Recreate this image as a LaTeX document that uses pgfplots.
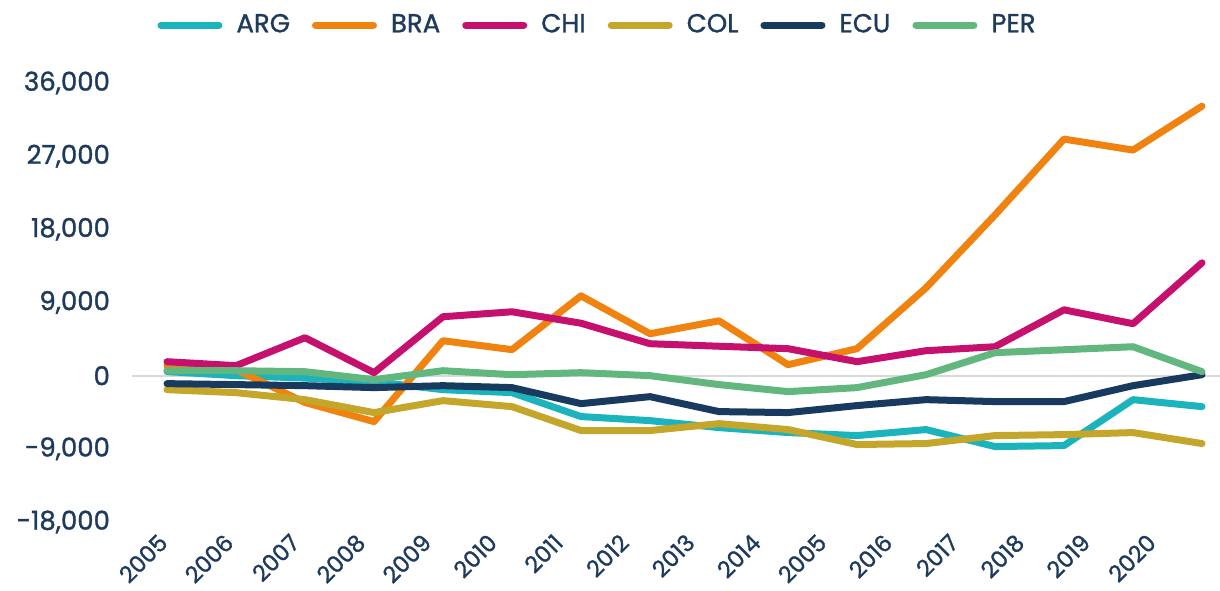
\documentclass[border=0pt]{standalone}
\usepackage{pgfplots}
\pgfplotsset{compat=1.18}
\usepackage{fontspec}
\setmainfont{Poppins}[UprightFeatures={FakeBold=1.2}]

\definecolor{cARG}{HTML}{1BB3BC}
\definecolor{cBRA}{HTML}{F0820F}
\definecolor{cCHI}{HTML}{C5106E}
\definecolor{cCOL}{HTML}{C4A62A}
\definecolor{cECU}{HTML}{173A5E}
\definecolor{cPER}{HTML}{62B77F}
\definecolor{txt}{HTML}{1E3A5C}

% x = 0 .. 15 stands for the 16 years
\pgfplotstableread{
x   ARG    BRA    CHI    COL    ECU    PER
0   500    1200   1720  -1720  -980    610
1   0      740    1230  -2090  -1100   610
2  -300   -3300   4670  -2950  -1230   490
3  -740   -5650   370   -4540  -1470  -490
4  -1720   4300   7250  -3070  -1230   610
5  -2090   3200   7860  -3810  -1470   120
6  -5030   9820   6450  -6750  -3440   370
7  -5530   5160   3930  -6750  -2580   0
8  -6390   6750   3620  -5900  -4420  -1100
9  -7000   1350   3320  -6630  -4540  -1960
10 -7370   3320   1720  -8470  -3680  -1470
11 -6630   10800  3070  -8350  -2950   120
12 -8720   19770  3560  -7370  -3190   2830
13 -8600   29100  8100  -7250  -3190   3190
14 -2950   27750  6390  -7000  -1230   3560
15 -3810   33150  13880 -8350   120    490
}\data

\begin{document}
\fontsize{13pt}{15pt}\selectfont
\begin{tikzpicture}
\useasboundingbox (0,0) rectangle (610pt,295pt);
\begin{axis}[
  at={(83.5pt,34pt)}, anchor=south west,
  scale only axis, width=517.5pt, height=219.5pt,
  xmin=0, xmax=15, ymin=-18000, ymax=36000,
  clip=false,
  scaled y ticks=false,
  axis line style={draw=none},
  tick style={draw=none},
  ytick={-18000,-9000,0,9000,18000,27000,36000},
  yticklabels={{-18,000},{-9,000},{0},{9,000},{18,000},{27,000},{36,000}},
  xtick={0,0.955,1.91,2.865,3.82,4.775,5.73,6.685,7.64,8.595,9.55,10.505,11.46,12.415,13.37,14.325},
  xticklabels={2005,2006,2007,2008,2009,2010,2011,2012,2013,2014,2005,2016,2017,2018,2019,2020},
  yticklabel style={anchor=east, xshift=-24pt, text=txt},
  xticklabel style={rotate=45, anchor=north east, xshift=-6pt, yshift=1pt, text=txt,
    inner sep=1pt, font=\fontsize{11.5pt}{13pt}\selectfont},
  every axis plot/.append style={line width=3.5pt, line join=round, line cap=round},
  legend columns=6,
  legend style={at={(0.415,1.132)}, anchor=center, draw=none, fill=none,
    text=txt, inner sep=0pt,
    /tikz/every odd column/.append style={column sep=7pt},
    /tikz/every even column/.append style={column sep=11pt},
    nodes={inner sep=0pt, anchor=base west}},
  legend image code/.code={\draw[line width=3.5pt, line cap=round] (1.75pt,0.5ex) -- (30.75pt,0.5ex);},
]
\draw[black!15, line width=1pt] (axis cs:-0.5,0) -- (axis cs:15.26,0);
\addplot[cARG] table[x=x, y=ARG] {\data};
\addplot[cBRA] table[x=x, y=BRA] {\data};
\addplot[cCHI] table[x=x, y=CHI] {\data};
\addplot[cCOL] table[x=x, y=COL] {\data};
\addplot[cECU] table[x=x, y=ECU] {\data};
\addplot[cPER] table[x=x, y=PER] {\data};
\legend{ARG,BRA,CHI,COL,ECU,PER}
\end{axis}
\end{tikzpicture}
\end{document}
